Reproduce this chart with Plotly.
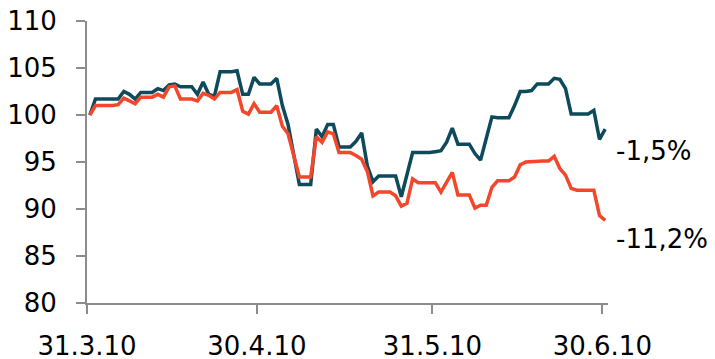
import plotly.graph_objects as go
import pandas as pd

# daily index values (31.3.2010 = 100), weekends carry the previous close
dates = pd.date_range("2010-03-31", "2010-06-30", freq="D")

series_a = [
    100.0, 101.7, 101.7, 101.7, 101.7, 101.7, 102.5, 102.2, 101.7, 102.4,
    102.4, 102.4, 102.8, 102.6, 103.2, 103.3, 103.0, 103.0, 103.0, 102.2,
    103.5, 102.2, 102.0, 104.6, 104.6, 104.6, 104.7, 102.2, 102.2, 104.0,
    103.3, 103.3, 103.3, 103.9, 101.0, 99.0, 95.6, 92.6, 92.6, 92.6,
    98.5, 97.7, 99.0, 99.0, 96.6, 96.6, 96.6, 97.2, 98.1, 94.6,
    92.9, 93.5, 93.5, 93.5, 93.5, 91.3, 93.8, 96.0, 96.0, 96.0,
    96.0, 96.1, 96.2, 97.1, 98.6, 96.9, 96.9, 96.9, 95.9, 95.2,
    97.5, 99.8, 99.7, 99.7, 99.7, 101.0, 102.5, 102.5, 102.6, 103.3,
    103.3, 103.3, 103.9, 103.8, 102.8, 100.1, 100.1, 100.1, 100.1, 100.5,
    97.4, 98.5,
]

series_b = [
    100.0, 101.0, 101.0, 101.0, 101.0, 101.1, 101.8, 101.5, 101.2, 101.9,
    101.9, 101.9, 102.2, 101.9, 103.0, 103.1, 101.7, 101.7, 101.7, 101.5,
    102.3, 102.1, 101.7, 102.4, 102.4, 102.4, 102.7, 100.4, 100.1, 101.2,
    100.3, 100.3, 100.3, 101.0, 98.8, 98.0, 95.8, 93.4, 93.4, 93.4,
    97.7, 97.1, 98.2, 98.0, 96.0, 96.0, 96.0, 95.7, 95.3, 94.0,
    91.4, 91.8, 91.8, 91.8, 91.4, 90.3, 90.6, 93.2, 92.8, 92.8,
    92.8, 92.8, 91.8, 92.8, 93.9, 91.5, 91.5, 91.5, 90.1, 90.4,
    90.4, 92.3, 93.0, 93.0, 93.0, 93.4, 94.7, 95.0, 95.05, 95.1,
    95.1, 95.1, 95.6, 94.3, 93.6, 92.2, 92.0, 92.0, 92.0, 92.0,
    89.3, 88.8,
]

tick_dates = ["2010-03-31", "2010-04-30", "2010-05-31", "2010-06-30"]
tick_labels = ["31.3.10", "30.4.10", "31.5.10", "30.6.10"]

end_labels = ["-1,5%", "-11,2%"]

COLOR_A = "#0D4A5C"
COLOR_B = "#F2472A"
AXIS_GREY = "#8C8C8C"
FONT = "DejaVu Sans"

fig = go.Figure()
fig.add_trace(go.Scatter(x=dates, y=series_a, mode="lines",
                         line=dict(color=COLOR_A, width=3.5), showlegend=False))
fig.add_trace(go.Scatter(x=dates, y=series_b, mode="lines",
                         line=dict(color=COLOR_B, width=3.5), showlegend=False))

# Excel-style date axis: the tick sits at the start of each day slot
half_day = pd.Timedelta(hours=12)
tickvals = [pd.Timestamp(d) - half_day for d in tick_dates]

fig.update_xaxes(
    range=[dates[0] - half_day, dates[-1] + half_day],
    tickvals=tickvals, ticktext=tick_labels,
    showgrid=False, zeroline=False, automargin=False,
    showline=True, linecolor=AXIS_GREY, linewidth=2,
    ticks="outside", ticklen=9, tickwidth=2, tickcolor=AXIS_GREY,
    ticklabelstandoff=10, ticklabeloverflow="allow",
    tickfont=dict(family=FONT, size=26, color="black"),
)
fig.update_yaxes(
    range=[80, 110], dtick=5,
    showgrid=False, zeroline=False, automargin=False,
    showline=True, linecolor=AXIS_GREY, linewidth=2,
    ticks="outside", ticklen=9, tickwidth=2, tickcolor=AXIS_GREY,
    ticklabelstandoff=14, ticklabeloverflow="allow",
    tickfont=dict(family=FONT, size=26, color="black"),
)

# end-of-period change labels to the right of the plot
for text, ypos in zip(end_labels, [96.2, 86.8]):
    fig.add_annotation(x=1, xref="paper", y=ypos, yref="y", text=text,
                       showarrow=False, xanchor="left", xshift=6,
                       font=dict(family=FONT, size=26, color="black"))

# page body keeps an 8px margin, so the figure is 8px smaller each way
fig.update_layout(
    width=707, height=351,
    margin=dict(l=79, r=107, t=13, b=56),
    paper_bgcolor="white", plot_bgcolor="white",
)

fig.write_html("out.html")
